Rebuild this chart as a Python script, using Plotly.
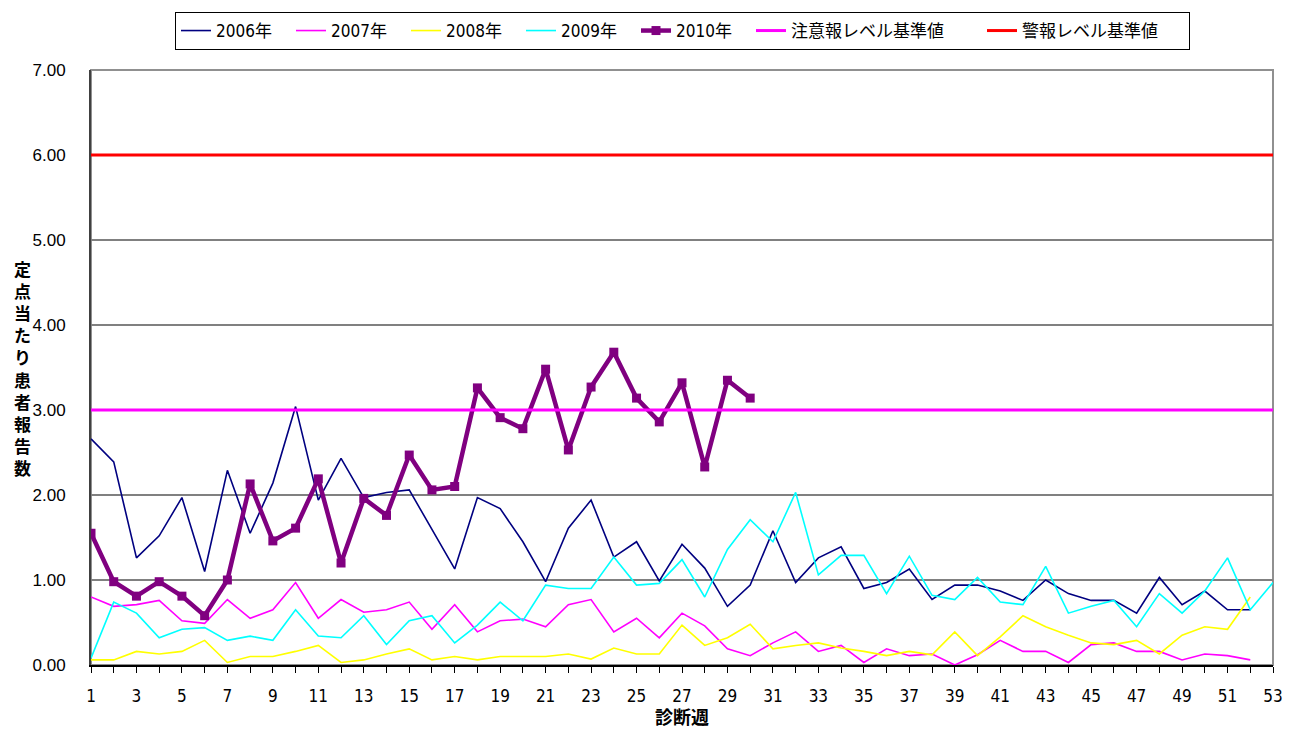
import plotly.graph_objects as go

weeks = list(range(1, 54))

y2006 = [2.66, 2.39, 1.26, 1.52, 1.97, 1.10, 2.29, 1.55, 2.14, 3.04,
         1.94, 2.43, 1.97, 2.03, 2.06, 1.59, 1.13, 1.97, 1.84, 1.45,
         0.98, 1.61, 1.94, 1.27, 1.45, 0.99, 1.42, 1.14, 0.69, 0.94,
         1.58, 0.97, 1.26, 1.39, 0.90, 0.97, 1.13, 0.77, 0.94, 0.94,
         0.87, 0.76, 1.00, 0.84, 0.76, 0.76, 0.61, 1.03, 0.71, 0.87,
         0.65, 0.65]
y2007 = [0.80, 0.69, 0.71, 0.76, 0.52, 0.49, 0.77, 0.55, 0.65, 0.97,
         0.55, 0.77, 0.62, 0.65, 0.74, 0.42, 0.71, 0.39, 0.52, 0.54,
         0.45, 0.71, 0.77, 0.39, 0.55, 0.32, 0.61, 0.46, 0.19, 0.11,
         0.26, 0.39, 0.16, 0.23, 0.03, 0.19, 0.11, 0.13, 0.00, 0.12,
         0.29, 0.16, 0.16, 0.03, 0.24, 0.26, 0.16, 0.16, 0.06, 0.13,
         0.11, 0.06]
y2008 = [0.06, 0.06, 0.16, 0.13, 0.16, 0.29, 0.03, 0.10, 0.10, 0.16,
         0.23, 0.03, 0.06, 0.13, 0.19, 0.06, 0.10, 0.06, 0.10, 0.10,
         0.10, 0.13, 0.07, 0.20, 0.13, 0.13, 0.47, 0.23, 0.32, 0.48,
         0.19, 0.23, 0.26, 0.20, 0.16, 0.11, 0.16, 0.12, 0.39, 0.11,
         0.33, 0.58, 0.45, 0.35, 0.26, 0.24, 0.29, 0.13, 0.35, 0.45,
         0.42, 0.80]
y2009 = [0.08, 0.74, 0.61, 0.32, 0.42, 0.44, 0.29, 0.34, 0.29, 0.65,
         0.34, 0.32, 0.58, 0.24, 0.52, 0.58, 0.26, 0.47, 0.74, 0.52,
         0.94, 0.90, 0.90, 1.27, 0.94, 0.96, 1.24, 0.80, 1.36, 1.71,
         1.45, 2.03, 1.06, 1.29, 1.29, 0.84, 1.28, 0.82, 0.77, 1.03,
         0.74, 0.71, 1.16, 0.61, 0.69, 0.76, 0.45, 0.84, 0.61, 0.87,
         1.26, 0.65, 0.97]
y2010 = [1.55, 0.98, 0.81, 0.98, 0.81, 0.58, 1.00, 2.13, 1.46, 1.61,
         2.19, 1.20, 1.96, 1.76, 2.47, 2.06, 2.10, 3.26, 2.91, 2.78,
         3.48, 2.53, 3.27, 3.68, 3.14, 2.86, 3.32, 2.33, 3.35, 3.14]

caution_level = 3.0
warning_level = 6.0

ytick_vals = [0, 1, 2, 3, 4, 5, 6, 7]
xtick_vals = list(range(1, 54, 2))

CJK = "Noto Sans CJK JP"
LEG_FONT = "DejaVu Sans Condensed, Noto Sans CJK JP, sans-serif"

# page body has an 8px margin; the figure is sized/offset to compensate
OFF = 8
W, H = 1297 - OFF, 729 - OFF

fig = go.Figure()

series = [
    ("2006年", y2006, "#000080"),
    ("2007年", y2007, "#FF00FF"),
    ("2008年", y2008, "#FFFF00"),
    ("2009年", y2009, "#00FFFF"),
]
for name, ys, col in series:
    fig.add_trace(go.Scatter(x=weeks[:len(ys)], y=ys, name=name, mode="lines",
                             line=dict(color=col, width=1.6), legendwidth=70))

fig.add_trace(go.Scatter(x=weeks[:len(y2010)], y=y2010, name="2010年", mode="lines+markers",
                         line=dict(color="#800080", width=4.5),
                         marker=dict(symbol="square", size=9, color="#800080"),
                         legendwidth=70))

fig.add_trace(go.Scatter(x=[weeks[0], weeks[-1]], y=[caution_level] * 2, name="注意報レベル基準値",
                         mode="lines", line=dict(color="#FF00FF", width=3), legendwidth=186))
fig.add_trace(go.Scatter(x=[weeks[0], weeks[-1]], y=[warning_level] * 2, name="警報レベル基準値",
                         mode="lines", line=dict(color="#FF0000", width=3), legendwidth=162))

fig.update_layout(
    width=W, height=H,
    paper_bgcolor="white", plot_bgcolor="white",
    margin=dict(l=91 - OFF, r=24, t=70 - OFF, b=64, autoexpand=False),
    font=dict(family="Liberation Sans, Noto Sans CJK JP, sans-serif", color="black", size=14),
    showlegend=True,
    legend=dict(orientation="h", x=(175 - OFF) / W, xanchor="left", xref="container",
                y=1 - (12 - OFF) / H, yanchor="top", yref="container",
                bordercolor="black", borderwidth=1, bgcolor="white",
                font=dict(size=17, family=LEG_FONT),
                itemwidth=30, tracegroupgap=0),
    xaxis=dict(range=[1, 53], tickvals=xtick_vals, ticktext=[str(v) for v in xtick_vals],
               ticks="outside", ticklen=6, tickcolor="black", automargin=False,
               minor=dict(ticks="outside", dtick=1, tick0=1, ticklen=6, tickcolor="black"),
               showgrid=False, zeroline=False, showline=True, linecolor="black", linewidth=2,
               tickfont=dict(size=17, family="DejaVu Sans Condensed, sans-serif"),
               ticklabelstandoff=9,
               title=dict(text="<b>診断週</b>", font=dict(size=18, family=CJK), standoff=5)),
    yaxis=dict(range=[0, 7], tickvals=ytick_vals, ticktext=["%.2f" % v for v in ytick_vals],
               ticks="", showgrid=True, gridcolor="#808080", gridwidth=1.5, automargin=False,
               zeroline=False, showline=True, linecolor="#404040", linewidth=2,
               tickfont=dict(size=17, family="Liberation Sans, sans-serif"),
               ticklabelstandoff=20),
)

# gray frame around plot area (top/right) and black 1.00 gridline as in reference
fig.add_shape(type="rect", xref="paper", yref="paper", x0=0, x1=1, y0=0, y1=1,
              line=dict(color="#909090", width=2), layer="below")
fig.add_shape(type="line", xref="paper", yref="y", x0=0, x1=1,
              y0=ytick_vals[1], y1=ytick_vals[1], line=dict(color="black", width=1.2), layer="below")

ytitle = "定点当たり患者報告数"
center_px = 368
spacing = 22.2
n = len(ytitle)
for i, ch in enumerate(ytitle):
    ypx = center_px + (i - (n - 1) / 2) * spacing
    fig.add_annotation(text="<b>" + ch + "</b>", x=(22 - 91) / 1182, xref="paper", xanchor="center",
                       y=(665 - ypx) / 595, yref="paper", yanchor="middle", showarrow=False,
                       font=dict(size=17, family=CJK, color="black"))

fig.write_html("out.html")
